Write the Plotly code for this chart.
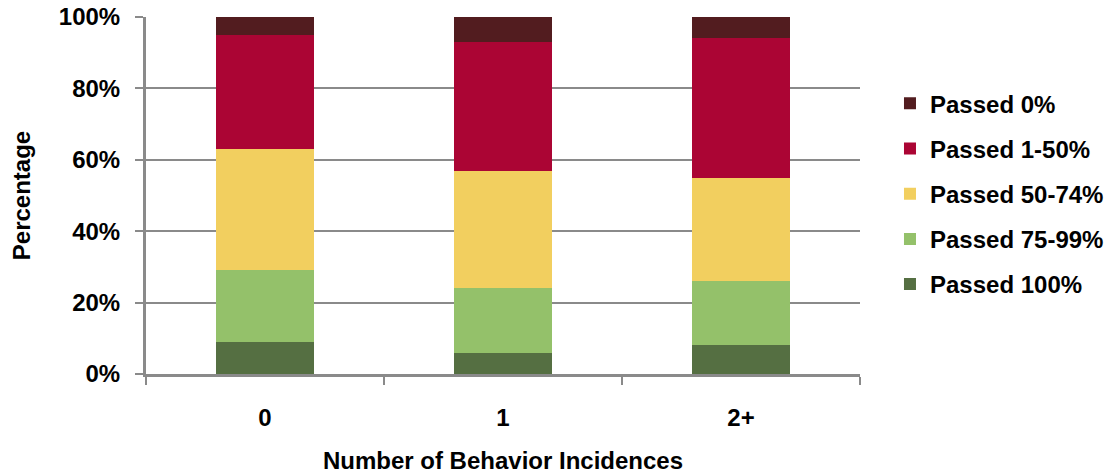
import plotly.graph_objects as go

# Share of students in each pass-rate band, by number of behavior incidences
categories = ["0", "1", "2+"]
passed_100 = [9, 6, 8]
passed_75_99 = [20, 18, 18]
passed_50_74 = [34, 33, 29]
passed_1_50 = [32, 36, 39]
passed_0 = [5, 7, 6]

y_ticks = [0, 20, 40, 60, 80, 100]
y_tick_text = ["0%", "20%", "40%", "60%", "80%", "100%"]

series = [
    ("Passed 100%", passed_100, "#556f42"),
    ("Passed 75-99%", passed_75_99, "#94c16a"),
    ("Passed 50-74%", passed_50_74, "#f2cf5f"),
    ("Passed 1-50%", passed_1_50, "#ab0534"),
    ("Passed 0%", passed_0, "#521c1f"),
]

FONT = dict(family="Liberation Sans, Arial, sans-serif", size=24, color="#000000", weight="bold")
GRID = "#8a8a8a"

fig = go.Figure()
for i, (name, vals, color) in enumerate(series):
    fig.add_trace(go.Bar(
        x=categories, y=vals, name=name, legendgroup=name,
        legendrank=len(series) - i,
        marker=dict(color=color, line=dict(width=0)),
        width=0.41,
    ))

fig.update_layout(
    barmode="stack",
    width=1113, height=474,
    margin=dict(l=146, r=253, t=17, b=100, autoexpand=False),
    paper_bgcolor="white", plot_bgcolor="white",
    font=FONT,
    showlegend=True,
    legend=dict(
        traceorder="grouped", tracegroupgap=11,
        x=1.042, xanchor="left", y=0.505, yanchor="middle",
        font=FONT,
        bgcolor="rgba(0,0,0,0)",
    ),
    xaxis=dict(
        type="category", automargin=False,
        tickson="boundaries", ticks="outside", ticklen=8, tickwidth=2, tickcolor=GRID,
        showline=True, linecolor=GRID, linewidth=3,
        showgrid=False,
        ticklabelstandoff=20,
        tickfont=FONT,
        title=dict(text="Number of Behavior Incidences", font=FONT, standoff=30),
    ),
    yaxis=dict(
        range=[0, 100], automargin=False,
        tickmode="array", tickvals=y_ticks, ticktext=y_tick_text,
        ticks="outside", ticklen=8, tickwidth=2, tickcolor=GRID,
        showline=True, linecolor=GRID, linewidth=3,
        showgrid=True, gridcolor=GRID, gridwidth=2,
        zeroline=False,
        ticklabelstandoff=10,
        tickfont=FONT,
        title=dict(text="Percentage", font=FONT, standoff=22),
    ),
)

fig.write_html("out.html")
